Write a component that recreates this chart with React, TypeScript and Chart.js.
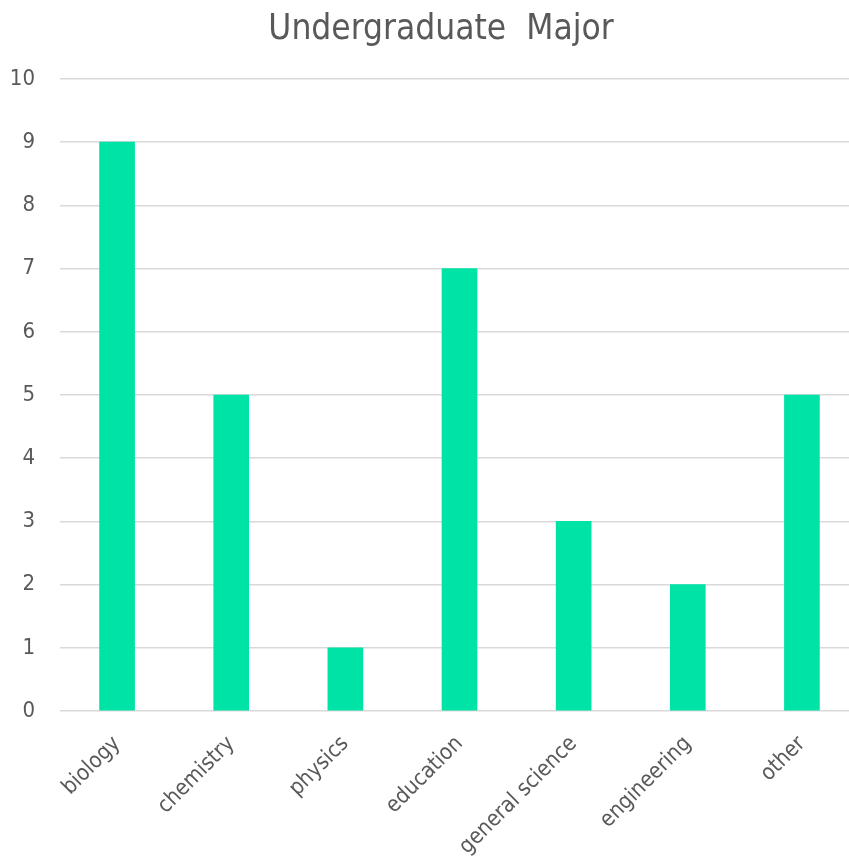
import React, { useEffect, useRef } from "react";
import { Chart, registerables } from "chart.js";

Chart.register(...registerables);

const categories = ["biology", "chemistry", "physics", "education", "general science", "engineering", "other"];
const counts = [9, 5, 1, 7, 3, 2, 5];
const chartTitle = "Undergraduate  Major";

const TEXT = "#595959";
const GRID = "#d9d9d9";
const BAR = "#00E3A6";
const FONT = "'DejaVu Sans Condensed', 'DejaVu Sans', Verdana, sans-serif";

export default function App() {
  const ref = useRef<HTMLCanvasElement | null>(null);

  useEffect(() => {
    document.documentElement.style.overflow = "hidden";
    document.body.style.margin = "0";
    const canvas = ref.current;
    if (!canvas) return;
    const chart = new Chart(canvas, {
      type: "bar",
      data: {
        labels: categories,
        datasets: [
          {
            data: counts,
            backgroundColor: BAR,
            borderWidth: 0,
            barThickness: 35,
          },
        ],
      },
      options: {
        responsive: false,
        animation: false,
        devicePixelRatio: 1,
        layout: { padding: { left: 4, right: 11, top: 79, bottom: 0 } },
        plugins: {
          legend: { display: false },
          tooltip: { enabled: false },
          title: { display: false },
        },
        scales: {
          x: {
            grid: { display: false, drawTicks: false },
            border: { display: false },
            ticks: {
              color: TEXT,
              font: { family: FONT, size: 22 },
              minRotation: 45,
              maxRotation: 45,
              padding: 20,
            },
            afterFit: (s: any) => {
              s.height = 150;
            },
          },
          y: {
            min: 0,
            max: 10,
            grid: { color: GRID, lineWidth: 1.5, drawTicks: false },
            border: { display: false },
            ticks: {
              stepSize: 1,
              color: TEXT,
              font: { family: FONT, size: 22 },
              padding: 25,
            },
            afterFit: (s: any) => {
              s.width = 56;
            },
          },
        },
      },
    });
    return () => chart.destroy();
  }, []);

  return (
    <div style={{ position: "absolute", left: 0, top: 0, width: 870, height: 861 }}>
      <div
        style={{
          position: "absolute",
          left: 0,
          top: 7,
          width: 882,
          textAlign: "center",
          font: `35px ${FONT}`,
          lineHeight: "40px",
          color: TEXT,
          whiteSpace: "pre",
        }}
      >
        {chartTitle}
      </div>
      <canvas ref={ref} width={870} height={861} style={{ display: "block" }} />
    </div>
  );
}
